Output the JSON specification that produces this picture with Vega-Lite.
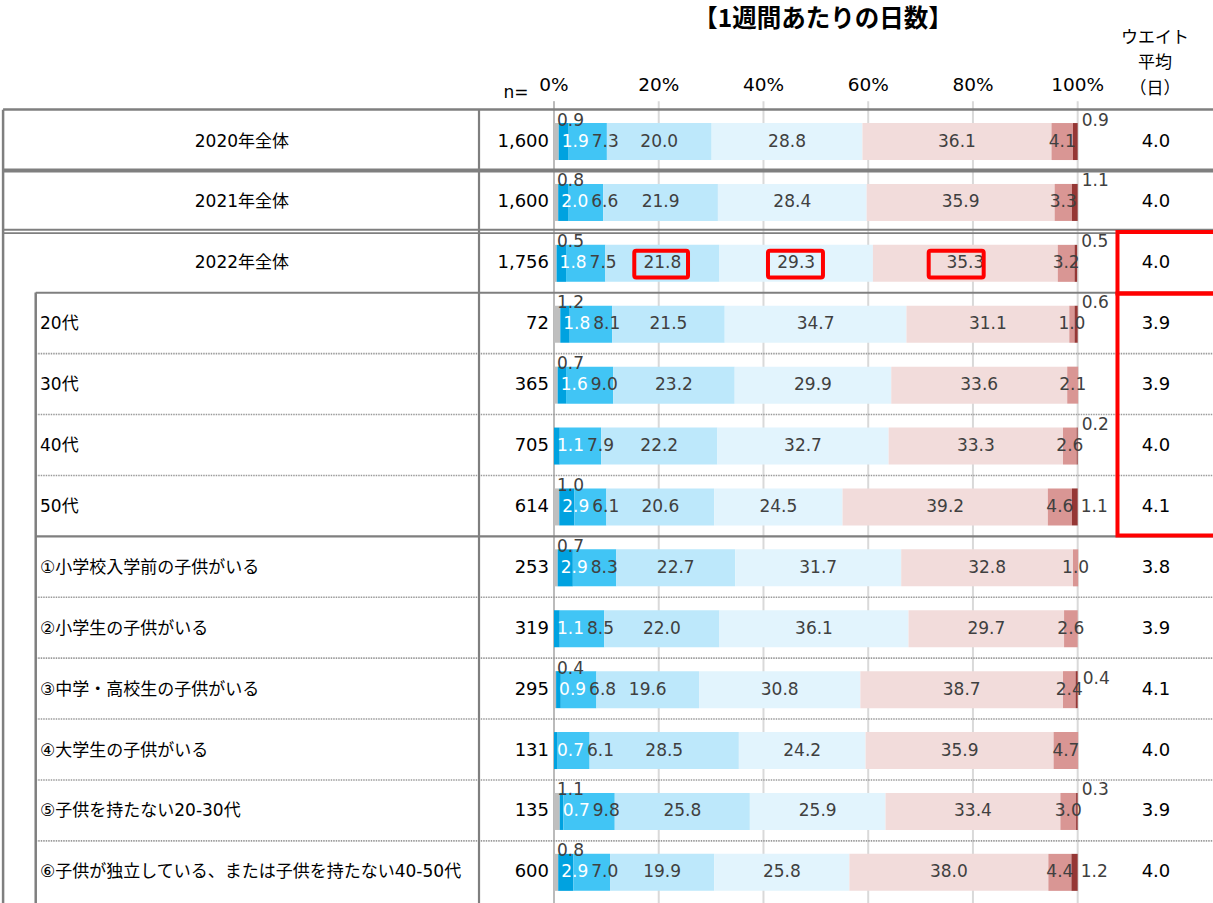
{
  "$schema": "https://vega.github.io/schema/vega-lite/v6.json",
  "width": 1213,
  "height": 803,
  "autosize": {"type": "none"},
  "padding": {"left": 0, "top": 100, "right": 0, "bottom": 0},
  "background": "white",
  "config": {"view": {"stroke": null}},
  "datasets": {
    "rows": [
      {"row": 0, "label": "2020年全体", "level": "total", "n": 1600, "avg": 4.0, "d0": 0.9, "d1": 1.9, "d2": 7.3, "d3": 20.0, "d4": 28.8, "d5": 36.1, "d6": 4.1, "d7": 0.9},
      {"row": 1, "label": "2021年全体", "level": "total", "n": 1600, "avg": 4.0, "d0": 0.8, "d1": 2.0, "d2": 6.6, "d3": 21.9, "d4": 28.4, "d5": 35.9, "d6": 3.3, "d7": 1.1},
      {"row": 2, "label": "2022年全体", "level": "total", "n": 1756, "avg": 4.0, "d0": 0.5, "d1": 1.8, "d2": 7.5, "d3": 21.8, "d4": 29.3, "d5": 35.3, "d6": 3.2, "d7": 0.5},
      {"row": 3, "label": "20代", "level": "sub", "n": 72, "avg": 3.9, "d0": 1.2, "d1": 1.8, "d2": 8.1, "d3": 21.5, "d4": 34.7, "d5": 31.1, "d6": 1.0, "d7": 0.6},
      {"row": 4, "label": "30代", "level": "sub", "n": 365, "avg": 3.9, "d0": 0.7, "d1": 1.6, "d2": 9.0, "d3": 23.2, "d4": 29.9, "d5": 33.6, "d6": 2.1, "d7": 0},
      {"row": 5, "label": "40代", "level": "sub", "n": 705, "avg": 4.0, "d0": 0, "d1": 1.1, "d2": 7.9, "d3": 22.2, "d4": 32.7, "d5": 33.3, "d6": 2.6, "d7": 0.2},
      {"row": 6, "label": "50代", "level": "sub", "n": 614, "avg": 4.1, "d0": 1.0, "d1": 2.9, "d2": 6.1, "d3": 20.6, "d4": 24.5, "d5": 39.2, "d6": 4.6, "d7": 1.1},
      {"row": 7, "label": "①小学校入学前の子供がいる", "level": "sub", "n": 253, "avg": 3.8, "d0": 0.7, "d1": 2.9, "d2": 8.3, "d3": 22.7, "d4": 31.7, "d5": 32.8, "d6": 1.0, "d7": 0},
      {"row": 8, "label": "②小学生の子供がいる", "level": "sub", "n": 319, "avg": 3.9, "d0": 0, "d1": 1.1, "d2": 8.5, "d3": 22.0, "d4": 36.1, "d5": 29.7, "d6": 2.6, "d7": 0},
      {"row": 9, "label": "③中学・高校生の子供がいる", "level": "sub", "n": 295, "avg": 4.1, "d0": 0.4, "d1": 0.9, "d2": 6.8, "d3": 19.6, "d4": 30.8, "d5": 38.7, "d6": 2.4, "d7": 0.4},
      {"row": 10, "label": "④大学生の子供がいる", "level": "sub", "n": 131, "avg": 4.0, "d0": 0, "d1": 0.7, "d2": 6.1, "d3": 28.5, "d4": 24.2, "d5": 35.9, "d6": 4.7, "d7": 0},
      {"row": 11, "label": "⑤子供を持たない20-30代", "level": "sub", "n": 135, "avg": 3.9, "d0": 1.1, "d1": 0.7, "d2": 9.8, "d3": 25.8, "d4": 25.9, "d5": 33.4, "d6": 3.0, "d7": 0.3},
      {"row": 12, "label": "⑥子供が独立している、または子供を持たない40-50代", "level": "sub", "n": 600, "avg": 4.0, "d0": 0.8, "d1": 2.9, "d2": 7.0, "d3": 19.9, "d4": 25.8, "d5": 38.0, "d6": 4.4, "d7": 1.2}
    ],
    "ticks": [
      {"v": 0, "lab": "0%"},
      {"v": 20, "lab": "20%"},
      {"v": 40, "lab": "40%"},
      {"v": 60, "lab": "60%"},
      {"v": 80, "lab": "80%"},
      {"v": 100, "lab": "100%"}
    ]
  },
  "layer": [
    {
      "data": {"name": "ticks"},
      "mark": {"type": "rule", "color": "#d9d9d9", "strokeWidth": 2},
      "encoding": {
        "x": {"field": "v", "type": "quantitative", "axis": null},
        "y": {"datum": -0.66, "type": "quantitative", "axis": null},
        "y2": {"datum": 12.6}
      }
    },
    {
      "data": {"name": "ticks"},
      "mark": {"type": "text", "align": "center", "baseline": "middle", "font": "DejaVu Sans", "fontSize": 18.5, "color": "#000000"},
      "encoding": {
        "x": {"field": "v", "type": "quantitative", "axis": null},
        "y": {"datum": -0.924, "type": "quantitative", "axis": null},
        "text": {"field": "lab"}
      }
    },
    {
      "data": {"values": [{}]},
      "mark": {"type": "rule", "color": "#b0b0b0", "strokeWidth": 1.5},
      "encoding": {
        "x": {"datum": 0, "type": "quantitative", "axis": null},
        "y": {"datum": -0.66, "type": "quantitative", "axis": null},
        "y2": {"datum": 12.6}
      }
    },
    {
      "data": {"name": "rows"},
      "transform": [
        {"fold": ["d0", "d1", "d2", "d3", "d4", "d5", "d6", "d7"], "as": ["key", "value"]},
        {"stack": "value", "groupby": ["row"], "sort": [{"field": "key", "order": "ascending"}], "as": ["x0", "x1"]}
      ],
      "mark": {"type": "bar", "size": 37, "orient": "horizontal"},
      "encoding": {
        "x": {"field": "x0", "type": "quantitative", "scale": {"domain": [-105.79, 125.84], "nice": false, "zero": false}, "axis": null},
        "x2": {"field": "x1"},
        "y": {"field": "row", "type": "quantitative", "scale": {"domain": [-0.6, 12.421], "reverse": true, "nice": false, "zero": false}, "axis": null},
        "color": {
          "field": "key", "type": "nominal",
          "scale": {"domain": ["d0", "d1", "d2", "d3", "d4", "d5", "d6", "d7"], "range": ["#bfbfbf", "#00a2e0", "#41c5f5", "#bde8fb", "#e2f4fd", "#f2dcdb", "#d99694", "#953735"]},
          "legend": null
        }
      }
    },
    {
      "data": {"name": "rows"},
      "transform": [{"filter": "datum.row == 0"}],
      "mark": {"type": "rule", "color": "#7f7f7f", "strokeWidth": 2.5, "yOffset": -32},
      "encoding": {"x": {"datum": -105.2, "type": "quantitative", "axis": null}, "x2": {"datum": 125.84}, "y": {"field": "row", "type": "quantitative", "axis": null}}
    },
    {
      "data": {"name": "rows"},
      "transform": [{"filter": "datum.row == 1"}],
      "mark": {"type": "rule", "color": "#7f7f7f", "strokeWidth": 4, "yOffset": -32},
      "encoding": {"x": {"datum": -105.2, "type": "quantitative", "axis": null}, "x2": {"datum": 125.84}, "y": {"field": "row", "type": "quantitative", "axis": null}}
    },
    {
      "data": {"name": "rows"},
      "transform": [{"filter": "datum.row == 2"}],
      "mark": {"type": "rule", "color": "#7f7f7f", "strokeWidth": 1.8, "yOffset": -33.6},
      "encoding": {"x": {"datum": -105.2, "type": "quantitative", "axis": null}, "x2": {"datum": 125.84}, "y": {"field": "row", "type": "quantitative", "axis": null}}
    },
    {
      "data": {"name": "rows"},
      "transform": [{"filter": "datum.row == 2"}],
      "mark": {"type": "rule", "color": "#7f7f7f", "strokeWidth": 1.8, "yOffset": -30.2},
      "encoding": {"x": {"datum": -105.2, "type": "quantitative", "axis": null}, "x2": {"datum": 125.84}, "y": {"field": "row", "type": "quantitative", "axis": null}}
    },
    {
      "data": {"name": "rows"},
      "transform": [{"filter": "datum.row == 3 || datum.row == 7"}],
      "mark": {"type": "rule", "color": "#7f7f7f", "strokeWidth": 2.2, "yOffset": -31.5},
      "encoding": {"x": {"datum": -98.97, "type": "quantitative", "axis": null}, "x2": {"datum": 125.84}, "y": {"field": "row", "type": "quantitative", "axis": null}}
    },
    {
      "data": {"name": "rows"},
      "transform": [{"filter": "datum.row > 3 && datum.row != 7"}],
      "mark": {"type": "rule", "color": "#9a9a9a", "strokeWidth": 1.6, "strokeDash": [1.5, 1], "yOffset": -31.5},
      "encoding": {"x": {"datum": -98.97, "type": "quantitative", "axis": null}, "x2": {"datum": 125.84}, "y": {"field": "row", "type": "quantitative", "axis": null}}
    },
    {
      "data": {"values": [{}]},
      "mark": {"type": "rule", "color": "#7f7f7f", "strokeWidth": 2.5},
      "encoding": {"x": {"datum": -105.2, "type": "quantitative", "axis": null}, "y": {"datum": -0.52, "type": "quantitative", "axis": null}, "y2": {"datum": 12.6}}
    },
    {
      "data": {"values": [{}]},
      "mark": {"type": "rule", "color": "#7f7f7f", "strokeWidth": 2.5},
      "encoding": {"x": {"datum": -98.97, "type": "quantitative", "axis": null}, "y": {"datum": 2.48, "type": "quantitative", "axis": null}, "y2": {"datum": 12.6}}
    },
    {
      "data": {"values": [{}]},
      "mark": {"type": "rule", "color": "#7f7f7f", "strokeWidth": 2.2},
      "encoding": {"x": {"datum": -14.32, "type": "quantitative", "axis": null}, "y": {"datum": -0.52, "type": "quantitative", "axis": null}, "y2": {"datum": 12.6}}
    },
    {
      "data": {"name": "rows"},
      "transform": [
        {"fold": ["d0", "d1", "d2", "d3", "d4", "d5", "d6", "d7"], "as": ["key", "value"]},
        {"stack": "value", "groupby": ["row"], "sort": [{"field": "key", "order": "ascending"}], "as": ["x0", "x1"]},
        {"calculate": "(datum.x0 + datum.x1) / 2", "as": "xm"},
        {"filter": "datum.value > 0"}
      ],
      "layer": [
        {
          "transform": [{"filter": "datum.key == 'd0'"}],
          "mark": {"type": "text", "align": "left", "baseline": "middle", "dx": 3, "dy": -21, "font": "DejaVu Sans", "fontSize": 17, "color": "#404040"},
          "encoding": {"x": {"field": "x0", "type": "quantitative", "axis": null}, "y": {"field": "row", "type": "quantitative", "axis": null}, "text": {"field": "value", "type": "quantitative", "format": ".1f"}}
        },
        {
          "transform": [{"filter": "datum.key == 'd1'"}],
          "mark": {"type": "text", "align": "left", "baseline": "middle", "dx": 3, "font": "DejaVu Sans", "fontSize": 17, "color": "#ffffff"},
          "encoding": {"x": {"field": "x0", "type": "quantitative", "axis": null}, "y": {"field": "row", "type": "quantitative", "axis": null}, "text": {"field": "value", "type": "quantitative", "format": ".1f"}}
        },
        {
          "transform": [{"filter": "datum.key == 'd2'"}],
          "mark": {"type": "text", "align": "left", "baseline": "middle", "dx": 33, "font": "DejaVu Sans", "fontSize": 17, "color": "#404040"},
          "encoding": {"x": {"field": "d0", "type": "quantitative", "axis": null}, "y": {"field": "row", "type": "quantitative", "axis": null}, "text": {"field": "value", "type": "quantitative", "format": ".1f"}}
        },
        {
          "transform": [{"filter": "datum.key == 'd3' || datum.key == 'd4' || datum.key == 'd5' || datum.key == 'd6'"}],
          "mark": {"type": "text", "align": "center", "baseline": "middle", "font": "DejaVu Sans", "fontSize": 17, "color": "#404040"},
          "encoding": {"x": {"field": "xm", "type": "quantitative", "axis": null}, "y": {"field": "row", "type": "quantitative", "axis": null}, "text": {"field": "value", "type": "quantitative", "format": ".1f"}}
        },
        {
          "transform": [{"filter": "datum.key == 'd7' && datum.row != 6 && datum.row != 9 && datum.row != 12"}],
          "mark": {"type": "text", "align": "left", "baseline": "middle", "dx": 4, "dy": -21, "font": "DejaVu Sans", "fontSize": 17, "color": "#404040"},
          "encoding": {"x": {"field": "x1", "type": "quantitative", "axis": null}, "y": {"field": "row", "type": "quantitative", "axis": null}, "text": {"field": "value", "type": "quantitative", "format": ".1f"}}
        },
        {
          "transform": [{"filter": "datum.key == 'd7' && (datum.row == 6 || datum.row == 12)"}],
          "mark": {"type": "text", "align": "left", "baseline": "middle", "dx": 3, "font": "DejaVu Sans", "fontSize": 17, "color": "#404040"},
          "encoding": {"x": {"field": "x1", "type": "quantitative", "axis": null}, "y": {"field": "row", "type": "quantitative", "axis": null}, "text": {"field": "value", "type": "quantitative", "format": ".1f"}}
        },
        {
          "transform": [{"filter": "datum.key == 'd7' && datum.row == 9"}],
          "mark": {"type": "text", "align": "left", "baseline": "middle", "dx": 5, "dy": -11, "font": "DejaVu Sans", "fontSize": 17, "color": "#404040"},
          "encoding": {"x": {"field": "x1", "type": "quantitative", "axis": null}, "y": {"field": "row", "type": "quantitative", "axis": null}, "text": {"field": "value", "type": "quantitative", "format": ".1f"}}
        }
      ]
    },
    {
      "data": {"name": "rows"},
      "transform": [{"filter": "datum.level == 'total'"}],
      "mark": {"type": "text", "align": "center", "baseline": "middle", "font": "DejaVu Sans, Noto Sans CJK JP", "fontSize": 17, "color": "#000000"},
      "encoding": {"x": {"datum": -59.6, "type": "quantitative", "axis": null}, "y": {"field": "row", "type": "quantitative", "axis": null}, "text": {"field": "label"}}
    },
    {
      "data": {"name": "rows"},
      "transform": [{"filter": "datum.level == 'sub'"}],
      "mark": {"type": "text", "align": "left", "baseline": "middle", "font": "DejaVu Sans, Noto Sans CJK JP", "fontSize": 17, "color": "#000000"},
      "encoding": {"x": {"datum": -98.15, "type": "quantitative", "axis": null}, "y": {"field": "row", "type": "quantitative", "axis": null}, "text": {"field": "label"}}
    },
    {
      "data": {"name": "rows"},
      "mark": {"type": "text", "align": "right", "baseline": "middle", "font": "DejaVu Sans", "fontSize": 18, "color": "#000000"},
      "encoding": {"x": {"datum": -0.95, "type": "quantitative", "axis": null}, "y": {"field": "row", "type": "quantitative", "axis": null}, "text": {"field": "n", "type": "quantitative", "format": ","}}
    },
    {
      "data": {"name": "rows"},
      "mark": {"type": "text", "align": "center", "baseline": "middle", "font": "DejaVu Sans", "fontSize": 18, "color": "#000000"},
      "encoding": {"x": {"datum": 114.95, "type": "quantitative", "axis": null}, "y": {"field": "row", "type": "quantitative", "axis": null}, "text": {"field": "avg", "type": "quantitative", "format": ".1f"}}
    },
    {
      "data": {"values": [{"t": "【1週間あたりの日数】"}]},
      "mark": {"type": "text", "align": "center", "baseline": "middle", "font": "Noto Sans CJK JP", "fontSize": 24.5, "fontWeight": "bold", "color": "#000000"},
      "encoding": {"x": {"datum": 51.37, "type": "quantitative", "axis": null}, "y": {"datum": -1.99, "type": "quantitative", "axis": null}, "text": {"field": "t"}}
    },
    {
      "data": {"values": [{"t": "n="}]},
      "mark": {"type": "text", "align": "center", "baseline": "middle", "font": "DejaVu Sans", "fontSize": 17, "color": "#000000"},
      "encoding": {"x": {"datum": -7.26, "type": "quantitative", "axis": null}, "y": {"datum": -0.8, "type": "quantitative", "axis": null}, "text": {"field": "t"}}
    },
    {
      "data": {"values": [{"t": "ウエイト|平均|（日）"}]},
      "mark": {"type": "text", "align": "center", "baseline": "middle", "lineBreak": "|", "lineHeight": 25.5, "font": "Noto Sans CJK JP", "fontSize": 17, "color": "#000000"},
      "encoding": {"x": {"datum": 114.76, "type": "quantitative", "axis": null}, "y": {"datum": -1.703, "type": "quantitative", "axis": null}, "text": {"field": "t"}}
    },
    {
      "data": {"values": [{}]},
      "layer": [
        {
          "mark": {"type": "rect", "fillOpacity": 0, "stroke": "#ff0000", "strokeWidth": 4, "cornerRadius": 2},
          "encoding": {"x": {"datum": 15.33, "type": "quantitative", "axis": null}, "x2": {"datum": 25.59}, "y": {"datum": 1.795, "type": "quantitative", "axis": null}, "y2": {"datum": 2.233}}
        },
        {
          "mark": {"type": "rect", "fillOpacity": 0, "stroke": "#ff0000", "strokeWidth": 4, "cornerRadius": 2},
          "encoding": {"x": {"datum": 40.86, "type": "quantitative", "axis": null}, "x2": {"datum": 51.36}, "y": {"datum": 1.795, "type": "quantitative", "axis": null}, "y2": {"datum": 2.233}}
        },
        {
          "mark": {"type": "rect", "fillOpacity": 0, "stroke": "#ff0000", "strokeWidth": 4, "cornerRadius": 2},
          "encoding": {"x": {"datum": 71.55, "type": "quantitative", "axis": null}, "x2": {"datum": 82.05}, "y": {"datum": 1.795, "type": "quantitative", "axis": null}, "y2": {"datum": 2.233}}
        },
        {
          "mark": {"type": "rect", "fillOpacity": 0, "stroke": "#ff0000", "strokeWidth": 4},
          "encoding": {"x": {"datum": 107.6, "type": "quantitative", "axis": null}, "x2": {"datum": 127.5}, "y": {"datum": 1.487, "type": "quantitative", "axis": null}, "y2": {"datum": 2.497}}
        },
        {
          "mark": {"type": "rect", "fillOpacity": 0, "stroke": "#ff0000", "strokeWidth": 4},
          "encoding": {"x": {"datum": 107.6, "type": "quantitative", "axis": null}, "x2": {"datum": 127.5}, "y": {"datum": 2.497, "type": "quantitative", "axis": null}, "y2": {"datum": 6.47}}
        }
      ]
    }
  ]
}
